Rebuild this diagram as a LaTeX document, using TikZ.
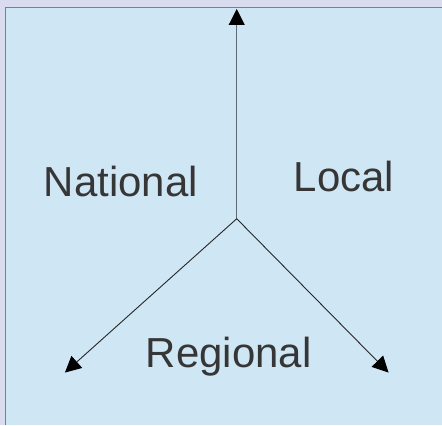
\documentclass[tikz,border=0pt]{standalone}
\usepackage{fontspec}
\setmainfont{Liberation Sans}
\usetikzlibrary{arrows.meta}
\definecolor{panel}{HTML}{CFE6F4}
\definecolor{outside}{HTML}{D9DCEE}
\definecolor{label}{HTML}{363636}
\definecolor{stem}{HTML}{5E6B75}
\tikzset{
word/.style={anchor=base, text=label, inner sep=0pt, font=\fontsize{42}{48}\selectfont},
line/.style={draw, line width=0.9pt, -{Triangle[length=16pt, width=16pt, color=black]}}
}

\begin{document}
\begin{tikzpicture}[x=1pt, y=1pt]
    % Background and frame
    \fill [outside] (0,0) rectangle (442,425);
    \fill [panel] (6,0) rectangle (442,417);
    \draw [gray, line width=1pt] (6,0) -- (6,417) -- (442,417);
    \useasboundingbox (0,0) rectangle (442,425);
    % Place nodes
    \coordinate (hub) at (237,206);
    \coordinate (up) at (237,416);
    \coordinate (downleft) at (65,52);
    \coordinate (downright) at (389,52);
    \node [word] (national) at (121,228) {National};
    \node [word] (local) at (344.5,233) {Local};
    \node [word] (regional) at (229,57) {Regional};
    % Draw edges
    \path [line, draw=stem] (hub) -- (up);
    \path [line, draw=black!85] (hub) -- (downleft);
    \path [line, draw=black!85] (hub) -- (downright);
\end{tikzpicture}
\end{document}
